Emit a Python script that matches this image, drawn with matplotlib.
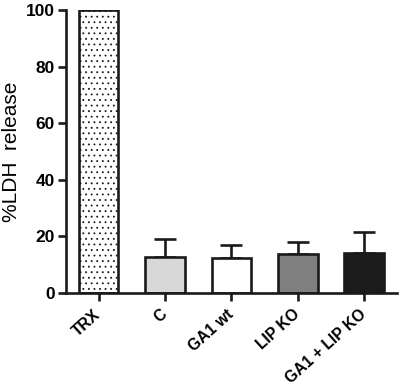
import matplotlib
matplotlib.use("Agg")
import matplotlib.pyplot as plt
import matplotlib.transforms as mtransforms

categories = ["TRX", "C", "GA1 wt", "LIP KO", "GA1 + LIP KO"]
values = [100, 12.6, 12.5, 13.9, 14.2]
errors = [0, 6.6, 4.5, 4.1, 7.2]
colors = ["white", "#d8d8d8", "white", "#808080", "#1c1c1c"]
hatches = ["...", None, None, None, None]
yticks = [0, 20, 40, 60, 80, 100]

plt.rcParams['font.family'] = ['Liberation Sans', 'DejaVu Sans']
plt.rcParams['hatch.linewidth'] = 0.6
plt.rcParams['hatch.color'] = '#333333'

fig = plt.figure(figsize=(4.01, 3.89), dpi=100)
ax = fig.add_axes([66/401, 1-293/389, (397-66)/401, (293-10)/389])

lw = 1.9
x = list(range(len(categories)))
for i in x:
    ax.bar(i, values[i], width=0.6, color=colors[i], edgecolor='#1a1a1a',
           linewidth=lw, hatch=hatches[i], zorder=2)
    if errors[i] > 0:
        ax.errorbar(i, values[i], yerr=[[0], [errors[i]]], fmt='none',
                    ecolor='#1a1a1a', elinewidth=lw, capsize=8, capthick=lw, zorder=1)

ax.set_xlim(-0.489, 4.49)
ax.set_ylim(0, 100)
ax.set_yticks(yticks)
ax.set_yticklabels([str(t) for t in yticks], fontsize=12.5, fontweight='bold')
ax.set_xticks(x)
ax.set_xticklabels(categories, rotation=42, ha='right', va='center',
                   rotation_mode='anchor', fontsize=11.3, fontweight='bold')
offset = mtransforms.ScaledTranslation(3/100, 0, fig.dpi_scale_trans)
for lab in ax.get_xticklabels():
    lab.set_transform(lab.get_transform() + offset)
for s in ['top', 'right']:
    ax.spines[s].set_visible(False)
for s in ['left', 'bottom']:
    ax.spines[s].set_linewidth(lw)
    ax.spines[s].set_color('#1a1a1a')
ax.tick_params(axis='both', direction='out', width=lw, length=6, color='#1a1a1a')
ax.tick_params(axis='x', pad=8)
ax.tick_params(axis='y', pad=2)
ax.set_ylabel("%LDH  release", fontsize=15)
ax.yaxis.set_label_coords(-0.135, 0.5)

fig.savefig("out.png", dpi=100)
